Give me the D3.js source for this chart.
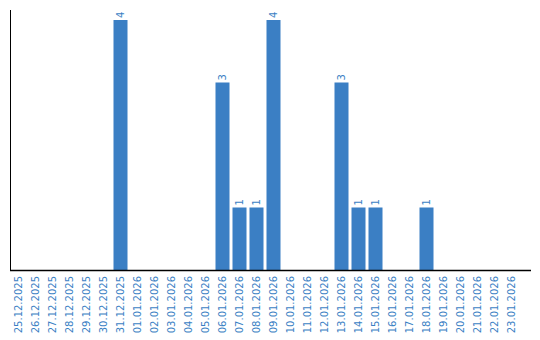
<!DOCTYPE html>
<html>
<head>
<meta charset="utf-8">
<script src="https://cdn.jsdelivr.net/npm/d3@7"></script>
<style>
  body { margin: 0; background: #fff; }
  text { font-family: "DejaVu Sans", Verdana, sans-serif; }
</style>
</head>
<body>
<svg id="chart"></svg>
<script>
const dates = [
  "25.12.2025", "26.12.2025", "27.12.2025", "28.12.2025", "29.12.2025",
  "30.12.2025", "31.12.2025", "01.01.2026", "02.01.2026", "03.01.2026",
  "04.01.2026", "05.01.2026", "06.01.2026", "07.01.2026", "08.01.2026",
  "09.01.2026", "10.01.2026", "11.01.2026", "12.01.2026", "13.01.2026",
  "14.01.2026", "15.01.2026", "16.01.2026", "17.01.2026", "18.01.2026",
  "19.01.2026", "20.01.2026", "21.01.2026", "22.01.2026", "23.01.2026"
];
const counts = [
  0, 0, 0, 0, 0,
  0, 4, 0, 0, 0,
  0, 0, 3, 1, 1,
  4, 0, 0, 0, 3,
  1, 1, 0, 0, 1,
  0, 0, 0, 0, 0
];

const width = 540;
const height = 340;
const plotLeft = 10;
const plotBottom = 270;
const plotTop = 20;
const blue = "#3b7fc4";

const svg = d3.select("#chart")
  .attr("width", width)
  .attr("height", height);

const x = d3.scaleBand()
  .domain(dates)
  .range([plotLeft, plotLeft + dates.length * 17])
  .paddingInner(3 / 17)
  .paddingOuter(1.5 / 17);

const y = d3.scaleLinear()
  .domain([0, d3.max(counts)])
  .range([plotBottom, plotTop]);

const data = dates.map((d, i) => ({ date: d, value: counts[i] }));

// bars
svg.append("g")
  .selectAll("rect")
  .data(data.filter((d) => d.value > 0))
  .join("rect")
  .attr("x", (d) => x(d.date))
  .attr("y", (d) => y(d.value))
  .attr("width", x.bandwidth())
  .attr("height", (d) => y(0) - y(d.value))
  .attr("fill", blue);

// value labels, rotated
svg.append("g")
  .selectAll("text")
  .data(data.filter((d) => d.value > 0))
  .join("text")
  .attr("transform", (d) =>
    `translate(${x(d.date) + x.bandwidth() / 2},${y(d.value) - 2}) rotate(-90)`)
  .attr("dy", "0.35em")
  .attr("text-anchor", "start")
  .attr("font-size", 10)
  .attr("fill", blue)
  .text((d) => d.value);

// x axis
const xAxis = svg.append("g")
  .attr("transform", `translate(0,${plotBottom})`)
  .call(d3.axisBottom(x).tickSize(0).tickPadding(0))
  .call((g) => g.select(".domain").remove());

xAxis.selectAll("text")
  .attr("font-size", 10)
  .attr("fill", blue)
  .attr("text-anchor", "end")
  .attr("dy", "0.35em")
  .attr("transform", "translate(0,6) rotate(-90)")
  .attr("y", 0)
  .attr("x", 0);

// axis lines
svg.append("line")
  .attr("x1", plotLeft + 0.5).attr("x2", plotLeft + 0.5)
  .attr("y1", 10).attr("y2", plotBottom + 1)
  .attr("stroke", "#000");

svg.append("line")
  .attr("x1", plotLeft).attr("x2", 531)
  .attr("y1", plotBottom + 0.5).attr("y2", plotBottom + 0.5)
  .attr("stroke", "#000")
  .attr("stroke-width", 1.5);
</script>
</body>
</html>
